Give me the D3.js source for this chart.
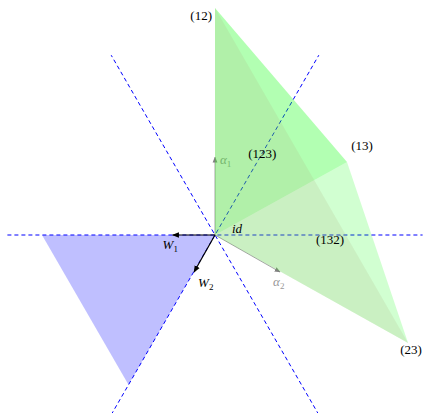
<!DOCTYPE html>
<html lang="en">
  <head>
    <meta charset="UTF-8" />
    <title></title>
    <script src="https://d3js.org/d3.v7.min.js"></script>
    <style>
      body { margin: 0; background: #fff; }
    </style>
  </head>
  <body>
    <div id="my_dataviz"></div>
    <script>
      // points of the orbit (units: side of the blue triangle)
      const pointNames = ['id', '(12)', '(13)', '(23)', '(123)', '(132)']
      const pointX = [0, 0, 0.763, 1.116, 0.273, 0.665]
      const pointY = [0, 1.312, 0.422, -0.624, 0.473, 0]

      // green triangles, by vertex name
      const greenTriangles = [
        ['id', '(12)', '(13)'],
        ['id', '(13)', '(23)'],
        ['id', '(12)', '(23)']
      ]

      // fundamental chamber (blue)
      const chamberX = [0, -1, -0.5]
      const chamberY = [0, 0, -0.866]

      // mirror lines through the origin (degrees), half length
      const mirrorAngles = [0, 60, 120]
      const mirrorHalf = 1.2

      // roots and weights
      const rootNames = ['α1', 'α2']
      const rootX = [0, 0.376]
      const rootY = [0.45, -0.214]
      const weightNames = ['W1', 'W2']
      const weightX = [-0.245, -0.121]
      const weightY = [0, -0.214]

      const width = 423, height = 413
      const unit = 173
      const font = "'Liberation Serif', 'DejaVu Serif', serif"
      const x = d3.scaleLinear().domain([-215 / unit, (width - 215) / unit]).range([0, width])
      const y = d3.scaleLinear().domain([235 / unit, (235 - height) / unit]).range([0, height])

      const svg = d3.select('#my_dataviz')
        .append('svg')
        .attr('width', width)
        .attr('height', height)
        .attr('font-family', font)

      const defs = svg.append('defs')
      function marker(id, color, size) {
        defs.append('marker')
          .attr('id', id)
          .attr('viewBox', '0 -5 10 10')
          .attr('refX', 9)
          .attr('refY', 0)
          .attr('markerWidth', size)
          .attr('markerHeight', size)
          .attr('markerUnits', 'userSpaceOnUse')
          .attr('orient', 'auto')
          .append('path')
          .attr('d', 'M0,-4L10,0L0,4Z')
          .attr('fill', color)
      }
      marker('headBlack', '#000', 7)
      marker('headGray', '#808080', 6)

      const pt = {}
      pointNames.forEach((n, i) => { pt[n] = [pointX[i], pointY[i]] })

      // mirror lines
      svg.append('g')
        .selectAll('line')
        .data(mirrorAngles)
        .join('line')
        .attr('x1', d => x(-mirrorHalf * Math.cos(d * Math.PI / 180)))
        .attr('y1', d => y(-mirrorHalf * Math.sin(d * Math.PI / 180)))
        .attr('x2', d => x(mirrorHalf * Math.cos(d * Math.PI / 180)))
        .attr('y2', d => y(mirrorHalf * Math.sin(d * Math.PI / 180)))
        .attr('stroke', '#0000ff')
        .attr('stroke-width', 1)
        .attr('stroke-dasharray', '4,3')

      // roots (under the fills)
      svg.append('g')
        .selectAll('line')
        .data(rootNames)
        .join('line')
        .attr('x1', x(0))
        .attr('y1', y(0))
        .attr('x2', (d, i) => x(rootX[i]))
        .attr('y2', (d, i) => y(rootY[i]))
        .attr('stroke', '#808080')
        .attr('stroke-width', 0.7)
        .attr('marker-end', 'url(#headGray)')

      const rootLabel = svg.append('g')
        .selectAll('text')
        .data(rootNames)
        .join('text')
        .attr('x', (d, i) => x(rootX[i]) + (i === 0 ? 5 : -7))
        .attr('y', (d, i) => y(rootY[i]) + (i === 0 ? 7 : 14))
        .attr('font-family', font)
        .attr('font-size', 13)
        .attr('font-style', 'italic')
        .attr('fill', '#999')
      rootLabel.append('tspan').text(d => d[0])
      rootLabel.append('tspan').attr('font-size', 9).attr('dy', 3).attr('font-style', 'normal').text(d => d[1])

      // green triangles
      const greenFill = ['#00ff00', '#00ff00', '#aaaa82']
      const greenOpacity = [0.3, 0.18, 0.18]
      svg.append('g')
        .selectAll('path')
        .data(greenTriangles)
        .join('path')
        .attr('d', d => 'M' + d.map(n => [x(pt[n][0]), y(pt[n][1])].join(',')).join('L') + 'Z')
        .attr('fill', (d, i) => greenFill[i])
        .attr('fill-opacity', (d, i) => greenOpacity[i])

      // blue chamber
      svg.append('path')
        .datum(chamberX.map((v, i) => [v, chamberY[i]]))
        .attr('d', d => 'M' + d.map(p => [x(p[0]), y(p[1])].join(',')).join('L') + 'Z')
        .attr('fill', '#0000ff')
        .attr('fill-opacity', 0.25)

      // weights
      svg.append('g')
        .selectAll('line')
        .data(weightNames)
        .join('line')
        .attr('x1', x(0))
        .attr('y1', y(0))
        .attr('x2', (d, i) => x(weightX[i]))
        .attr('y2', (d, i) => y(weightY[i]))
        .attr('stroke', '#000')
        .attr('stroke-width', 1.2)
        .attr('marker-end', 'url(#headBlack)')

      const wLabel = svg.append('g')
        .selectAll('text')
        .data(weightNames)
        .join('text')
        .attr('x', (d, i) => x(weightX[i]) + (i === 0 ? -10 : 4))
        .attr('y', (d, i) => y(weightY[i]) + (i === 0 ? 14 : 15))
        .attr('font-family', font)
        .attr('font-size', 13)
        .attr('font-style', 'italic')
        .attr('fill', '#000')
      wLabel.append('tspan').text(d => d[0])
      wLabel.append('tspan').attr('font-size', 9).attr('dy', 3).attr('font-style', 'normal').text(d => d[1])

      // point labels
      const labelDx = [17, -3, 15, 3, 0, 0]
      const labelDy = [-2, 12, -12, 11, 5, 9]
      const labelAnchor = ['start', 'end', 'middle', 'middle', 'middle', 'middle']
      svg.append('g')
        .selectAll('text')
        .data(pointNames)
        .join('text')
        .attr('x', (d, i) => x(pointX[i]) + labelDx[i])
        .attr('y', (d, i) => y(pointY[i]) + labelDy[i])
        .attr('text-anchor', (d, i) => labelAnchor[i])
        .attr('font-family', font)
        .attr('font-size', 13)
        .attr('font-style', (d, i) => i === 0 ? 'italic' : 'normal')
        .attr('fill', '#000')
        .text(d => d)
    </script>
  </body>
</html>
